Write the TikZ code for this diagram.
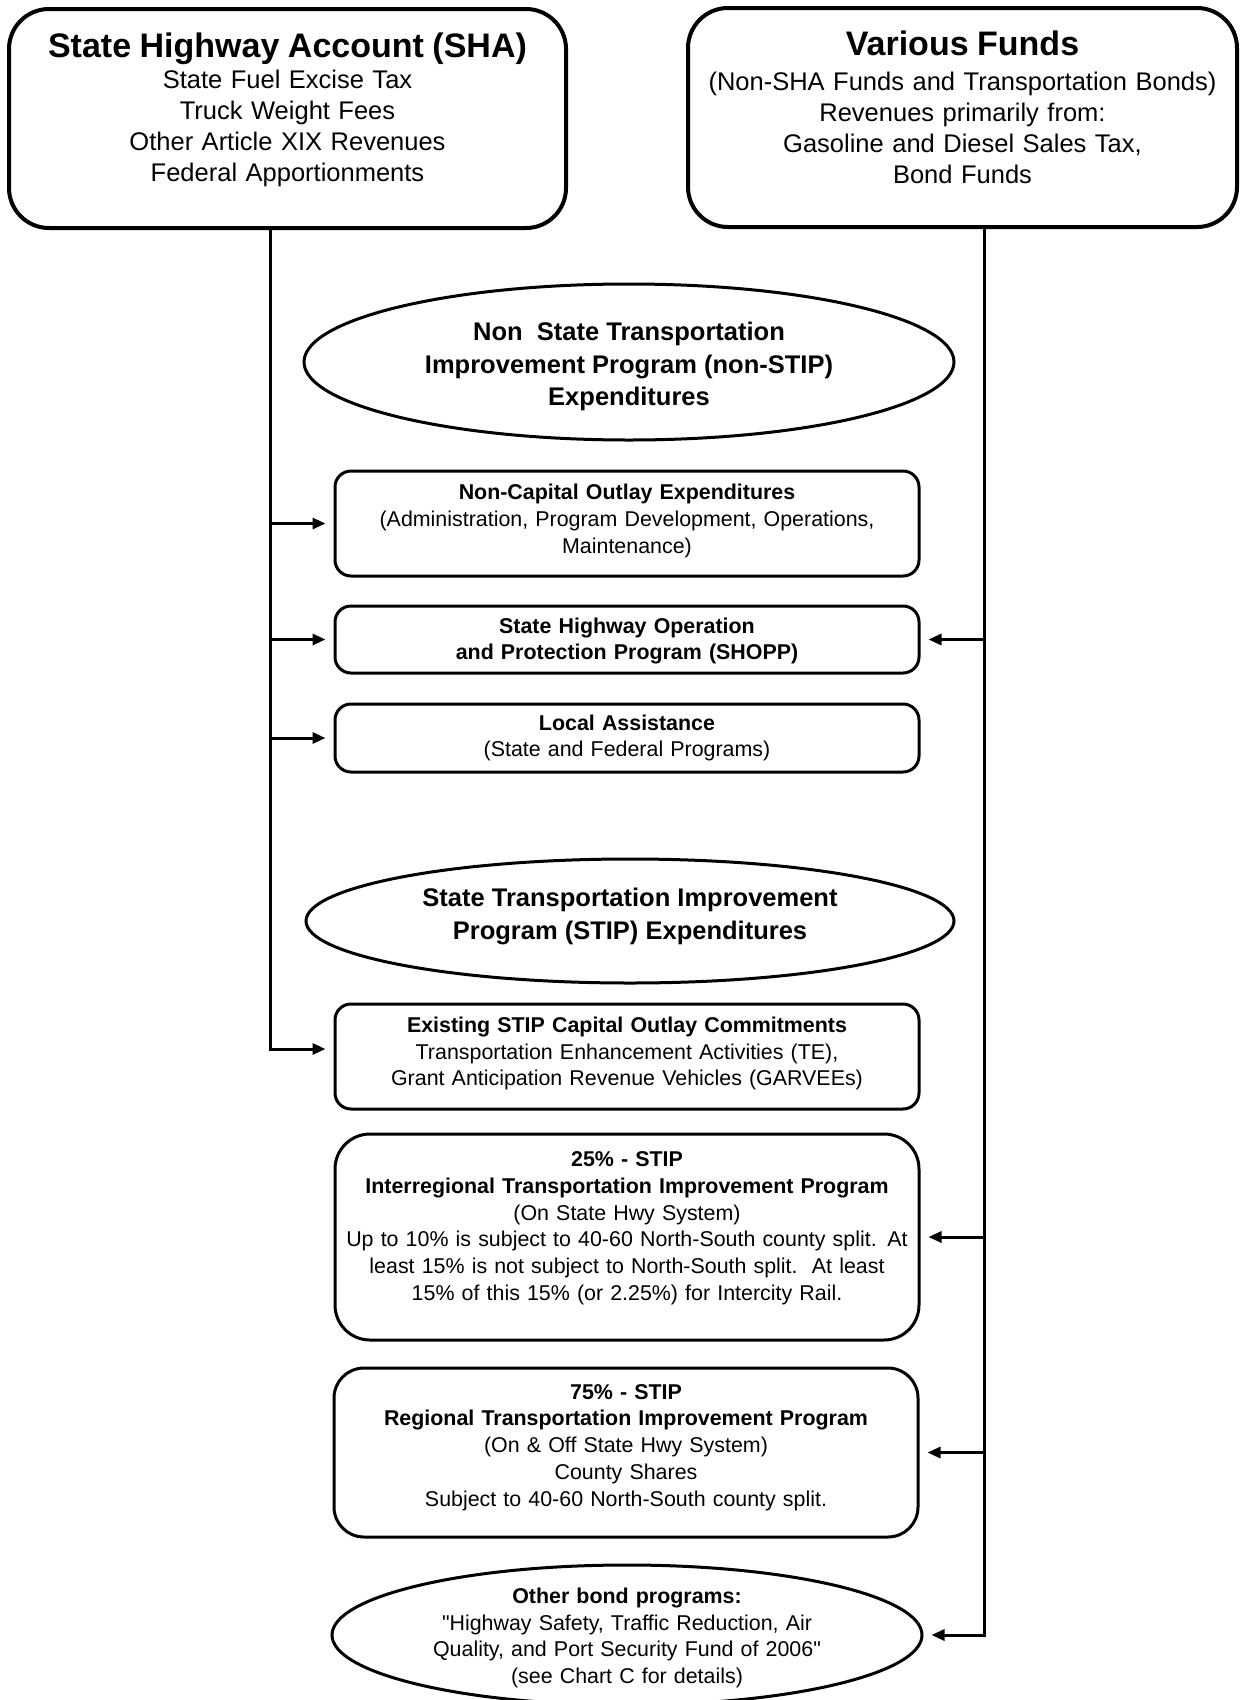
\documentclass[tikz,border=0pt]{standalone}
\usepackage{fontspec}
\setmainfont{Liberation Sans}
\usetikzlibrary{shapes.geometric,arrows.meta}
\newcommand\dq{\XeTeXglyph\XeTeXcharglyph"22\relax}
\begin{document}
\begin{tikzpicture}[x=1pt,y=-1pt,
  bigbox/.style={draw,line width=4pt,rounded corners=40pt,inner sep=0pt,minimum height=219pt},
  bigtext/.style={inner sep=0pt,align=center,text width=540pt,font=\fontsize{25.5}{31}\selectfont},
  smallbox/.style={draw,line width=3pt,rounded corners=16pt,inner sep=0pt,minimum width=584pt},
  smalltext/.style={inner sep=0pt,align=center,text width=570pt,font=\fontsize{21.4}{26.8}\selectfont},
  oval/.style={draw,line width=3pt,ellipse,inner sep=0pt},
  ovaltext/.style={inner sep=0pt,align=center,font=\fontsize{25.5}{32.5}\selectfont\bfseries},
  arr/.style={line width=3pt,line join=miter,-{Triangle[length=13pt,width=11pt]},shorten >=8pt}
]
\useasboundingbox (0,0) rectangle (1241,1700);

% source boxes
\node[bigbox,minimum width=557pt] (sha) at (287.5,118.5) {};
\node[bigtext] (shatext) at ([yshift=8.5pt]sha.center)
  {{\fontsize{34}{40}\selectfont\bfseries State Highway Account (SHA)}\\
   State Fuel Excise Tax\\
   Truck Weight Fees\\
   Other Article XIX Revenues\\
   Federal Apportionments};
\node[bigbox,minimum width=549pt] (vf) at (962.5,117.5) {};
\node[bigtext] (vftext) at ([yshift=10pt]vf.center)
  {{\fontsize{34}{40}\selectfont\bfseries Various Funds}\\[4pt]
   (Non-SHA Funds and Transportation Bonds)\\
   Revenues primarily from:\\
   Gasoline and Diesel Sales Tax,\\
   Bond Funds};

% non-STIP
\node[oval,minimum width=650pt,minimum height=156pt] (e1) at (629,362) {};
\node[ovaltext] (e1text) at ([yshift=-4.5pt]e1.center)
  {Non\ \ State Transportation\\Improvement Program (non-STIP)\\Expenditures};

\node[smallbox,minimum height=105pt] (nc) at (627,523.5) {};
\node[smalltext] (nctext) at ([yshift=2.7pt]nc.center)
  {\textbf{Non-Capital Outlay Expenditures}\\
   (Administration, Program Development, Operations,\\
   Maintenance)};
\node[smallbox,minimum height=67pt] (shopp) at (627,639.5) {};
\node[smalltext] (shopptext) at ([yshift=-1.5pt]shopp.center)
  {\textbf{State Highway Operation}\\
   \textbf{and Protection Program (SHOPP)}};
\node[smallbox,minimum height=68pt] (la) at (627,738) {};
\node[smalltext] (latext) at (la.center)
  {\textbf{Local Assistance}\\
   (State and Federal Programs)};

% STIP
\node[oval,minimum width=648pt,minimum height=124pt] (e2) at (630,921) {};
\node[ovaltext] (e2text) at ([yshift=4.3pt]e2.center)
  {State Transportation Improvement\\Program (STIP) Expenditures};

\node[smallbox,minimum height=105pt] (ex) at (627,1056.5) {};
\node[smalltext] (extext) at ([yshift=3pt]ex.center)
  {\textbf{Existing STIP Capital Outlay Commitments}\\
   Transportation Enhancement Activities (TE),\\
   Grant Anticipation Revenue Vehicles (GARVEEs)};
\node[smallbox,rounded corners=35pt,minimum height=206pt] (p25) at (627,1237) {};
\node[smalltext] (p25text) at ([yshift=8.7pt]p25.center)
  {\textbf{25\% - STIP}\\
   \textbf{Interregional Transportation Improvement Program}\\
   (On State Hwy System)\\
   Up to 10\% is subject to 40-60 North-South county split. At\\
   least 15\% is not subject to North-South split.\ \ At least\\
   15\% of this 15\% (or 2.25\%) for Intercity Rail.};
\node[smallbox,rounded corners=30pt,minimum height=169pt] (p75) at (626,1452.5) {};
\node[smalltext] (p75text) at ([yshift=5pt]p75.center)
  {\textbf{75\% - STIP}\\
   \textbf{Regional Transportation Improvement Program}\\
   (On \& Off State Hwy System)\\
   County Shares\\
   Subject to 40-60 North-South county split.};

\node[oval,minimum width=590pt,minimum height=140pt] (e3) at (627,1635) {};
\node[smalltext,text width=500pt,font=\fontsize{21.4}{26.7}\selectfont] (e3text) at ([yshift=-3pt]e3.center)
  {\textbf{Other bond programs:}\\
   \dq Highway Safety, Traffic Reduction, Air\\
   Quality, and Port Security Fund of 2006\dq\\
   (see Chart C for details)};

% trunk lines
\coordinate (lx) at (270,0);
\coordinate (rx) at (984,0);

\draw[arr] (sha.south -| lx) |- ([yshift=7.5pt]ex.west);
\draw[arr] (lx |- nc.west) -- (nc.west);
\draw[arr] (lx |- shopp.west) -- (shopp.west);
\draw[arr] (lx |- la.west) -- (la.west);

\draw[arr] (vf.south -| rx) |- (e3.east);
\draw[arr] (rx |- shopp.east) -- (shopp.east);
\draw[arr] (rx |- p25.east) -- (p25.east);
\draw[arr] (rx |- p75.east) -- (p75.east);
\end{tikzpicture}
\end{document}
